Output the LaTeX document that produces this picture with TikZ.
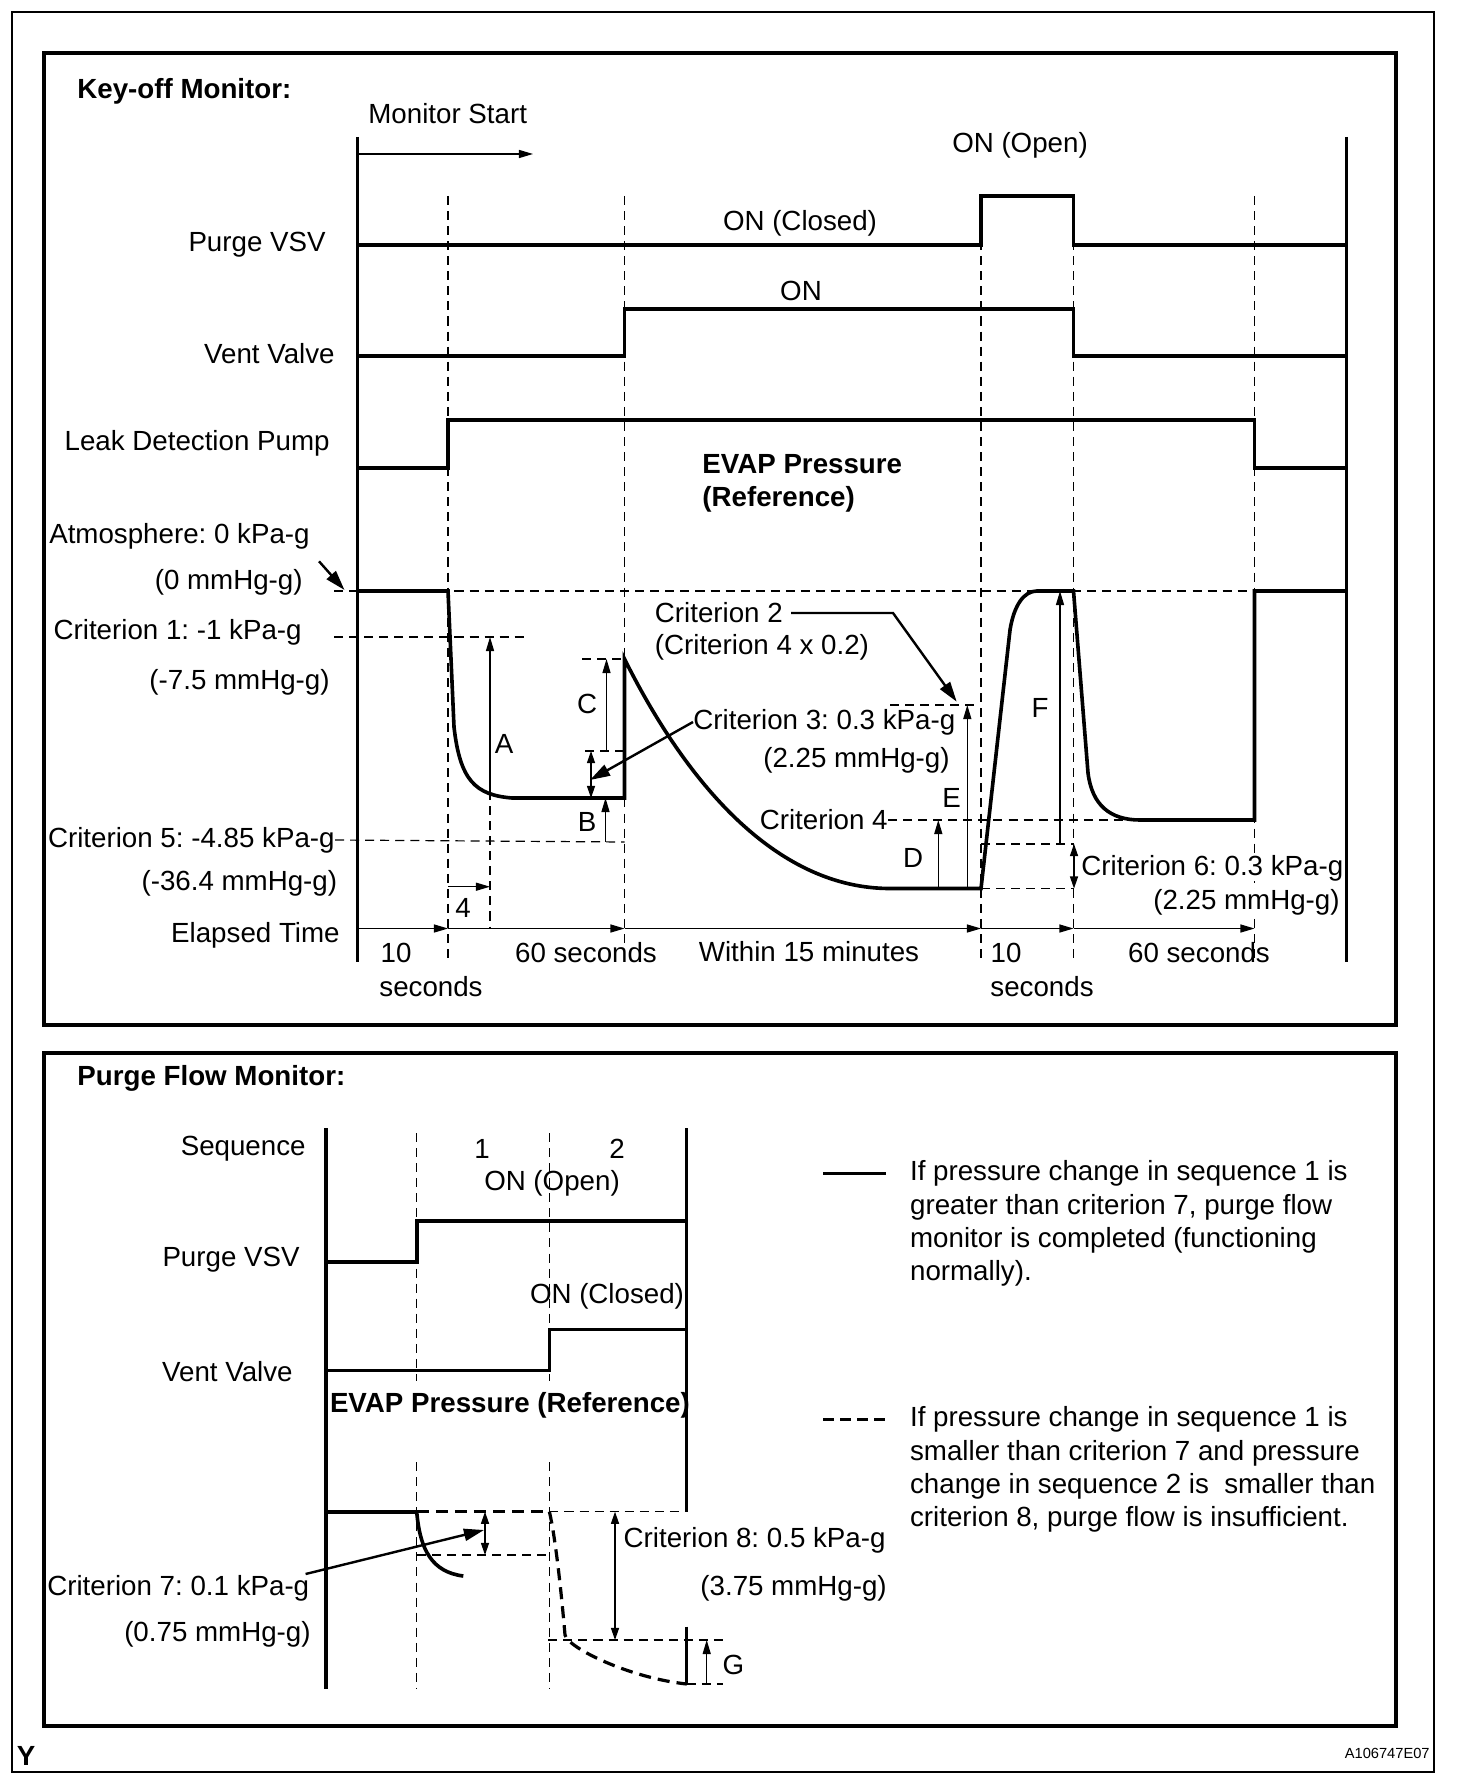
\documentclass[tikz,border=0pt]{standalone}
\usepackage{fontspec}
\setmainfont{Liberation Sans}
\usetikzlibrary{arrows.meta,positioning}
\frenchspacing

\begin{document}
\begin{tikzpicture}[
    x=0.0175cm, y=-0.0175cm,
    font=\fontsize{13.8}{16.5}\selectfont,
    lbl/.style={inner sep=0pt},
    mask/.style={inner sep=0pt, fill=white},
    title/.style={inner sep=0pt, font=\fontsize{13.8}{16.5}\selectfont\bfseries},
    sig/.style={line width=1.8pt},
    axis/.style={line width=1.5pt},
    guide/.style={line width=0.6pt, dash pattern=on 4.5pt off 3pt},
    tick/.style={line width=0.6pt, -{Triangle[length=7pt,width=4pt]}},
    span/.style={line width=0.6pt, {Triangle[length=6pt,width=4pt]}-{Triangle[length=6pt,width=4pt]}},
    pointer/.style={line width=1.2pt, -{Triangle[length=10pt,width=6pt]}},
    failcurve/.style={line width=1.6pt, dash pattern=on 6pt off 3.5pt}
]
\useasboundingbox (0,0) rectangle (1456,1788);
\draw[line width=1.2pt] (12,12) rectangle (1434,1772);
\draw[line width=2pt] (44,53) rectangle (1396,1025);
\draw[line width=2pt] (44,1053) rectangle (1396,1726);
\node[title, anchor=center] (yy) at (26,1756) {Y};
\node[lbl, anchor=east, font=\fontsize{7.3}{9}\selectfont] (code) at (1430,1753) {A106747E07};

% key-off monitor
\node[title, anchor=west] (keyoff) at (77,91) {Key-off Monitor:};
\node[lbl, anchor=west] (mstart) at (368,114) {Monitor Start};
\draw[axis] (357.5,137) -- (357.5,962);
\draw[axis] (1346.5,137) -- (1346.5,962);
\draw[tick] (357.5,154) -- (533,154);
\foreach \t in {448,624.5,981,1073.5,1254.5}
    \draw[guide] (\t,196) -- (\t,962);
\foreach \a/\b in {357.5/448,448/624.5,624.5/981,981/1073.5,1073.5/1254.5}
    \draw[tick] (\a,928.5) -- (\b,928.5);

\node[lbl, anchor=east] (vsvK) at (326,245) {Purge VSV};
\node[lbl, anchor=east] (ventK) at (335,354) {Vent Valve};
\node[lbl, anchor=east] (pump) at (330,443) {Leak Detection Pump};
\node[lbl] (open) at (1020,145) {ON (Open)};
\node[lbl] (closed) at (800,223) {ON (Closed)};
\node[lbl] (on) at (801,291) {ON};
\draw[sig] (357.5,245) -- (981,245) -- (981,196) -- (1073.5,196) -- (1073.5,245) -- (1346.5,245);
\draw[sig] (357.5,356) -- (624.5,356) -- (624.5,309) -- (1073.5,309) -- (1073.5,356) -- (1346.5,356);
\draw[sig] (357.5,468) -- (448,468) -- (448,420) -- (1254.5,420) -- (1254.5,468) -- (1346.5,468);

\node[title, anchor=west] (evapK) at (702,464) {EVAP Pressure};
\node[title, anchor=west] (refK) at (702,499) {(Reference)};
\node[lbl, anchor=east] (atm) at (310,536) {Atmosphere: 0 kPa-g};
\node[lbl, anchor=east] (atmmm) at (303,582) {(0 mmHg-g)};
\node[lbl, anchor=east] (crit1) at (302,632) {Criterion 1: -1 kPa-g};
\node[lbl, anchor=east] (crit1mm) at (330,682) {(-7.5 mmHg-g)};
\node[lbl, anchor=east] (crit5) at (335,840) {Criterion 5: -4.85 kPa-g};
\node[lbl, anchor=east] (crit5mm) at (337.5,883) {(-36.4 mmHg-g)};
\node[lbl, anchor=east] (elapsed) at (340,935) {Elapsed Time};
\node[lbl, anchor=west] (crit2) at (654.5,613) {Criterion 2};
\node[lbl, anchor=west] (crit2b) at (654.5,647) {(Criterion 4 x 0.2)};
\node[lbl, anchor=west] (crit3) at (693,722) {Criterion 3: 0.3 kPa-g};
\node[lbl, anchor=east] (crit3mm) at (950,760) {(2.25 mmHg-g)};
\node[lbl, anchor=east] (crit4) at (888,820) {Criterion 4};
\node[lbl] (lA) at (504,744) {A};
\node[lbl] (lB) at (587,822) {B};
\node[lbl] (lC) at (587,704) {C};
\node[lbl] (lD) at (913,858) {D};
\node[lbl] (lE) at (951.5,798) {E};
\node[lbl] (lF) at (1040,708) {F};
\node[lbl] (four) at (463,908) {4};
\node[lbl] (ten1) at (396,953) {10};
\node[lbl] (sec1) at (431,987) {seconds};
\node[lbl] (sixty1) at (586,953) {60 seconds};
\node[lbl] (within) at (809,952) {Within 15 minutes};
\node[lbl] (ten2) at (1006,953) {10};
\node[lbl] (sec2) at (1042,987) {seconds};
\node[lbl] (sixty2) at (1199,953) {60 seconds};

\draw[guide] (334,591) -- (1254.5,591);
\draw[guide] (334,637) -- (526,637);
\draw[guide] (crit5.east) -- (624.5,842);
\draw[guide] (582,659) -- (624.5,659);
\draw[guide] (585,751) -- (624.5,751);
\draw[guide] (890,705) -- (980,705);
\draw[guide] (crit4.east) -- (1140,820);
\draw[guide] (981,844) -- (1073.5,844);
\draw[guide] (981,888.5) -- (1073.5,888.5);
\draw[guide] (490,791) -- (490,928.5);

\node[mask, anchor=west] (crit6) at (1081,868) {Criterion 6: 0.3 kPa-g};
\node[mask, anchor=east] (crit6mm) at (1340,902) {(2.25 mmHg-g)};

\draw[sig] (357.5,591) -- (448,591) -- (454,727) .. controls (460,780) and (475,795) .. (512,798)
    -- (624.5,798) -- (624.5,659) .. controls (690,790) and (780,888.5) .. (890,888.5)
    -- (981,888.5) -- (1010,630) .. controls (1014,605) and (1024,591) .. (1037,591)
    -- (1073.5,591) -- (1088,773) .. controls (1092,805) and (1110,820) .. (1140,820)
    -- (1254.5,820) -- (1254.5,591) -- (1346.5,591);

\draw[tick] (490,791) -- (490,637);
\draw[tick] (606.5,751) -- (606.5,659);
\draw[span] (591,751) -- (591,798);
\draw[tick] (605.5,842) -- (605.5,798);
\draw[tick] (938.3,888.5) -- (938.3,820);
\draw[tick] (967.3,888.5) -- (967.3,705);
\draw[tick] (1060,844) -- (1060,591);
\draw[span] (1074,844) -- (1074,888.5);
\draw[tick] (448,886.7) -- (490,886.7);

\draw[pointer] ([shift={(9,12)}]atm.south east) -- (344.5,590);
\draw[pointer] ([xshift=4pt]crit2.east) -- (893,613) -- (956.7,701.7);
\draw[pointer] (crit3.west) -- (590,780);

% purge flow monitor
\node[title, anchor=west] (purgeflow) at (77,1078) {Purge Flow Monitor:};
\draw[axis] (326,1128) -- (326,1689);
\draw[axis] (686.7,1128) -- (686.7,1511.7);
\draw[axis] (686.7,1626.7) -- (686.7,1685);
\foreach \t in {416.7,549.4} {
    \draw[guide] (\t,1133) -- (\t,1381);
    \draw[guide] (\t,1462) -- (\t,1689);
}
\node[lbl, anchor=east] (seq) at (306,1149) {Sequence};
\node[lbl] (seq1) at (482,1149) {1};
\node[lbl] (seq2) at (617,1149) {2};
\node[lbl] (openP) at (552,1183) {ON (Open)};
\node[lbl] (closedP) at (607,1296) {ON (Closed)};
\node[lbl, anchor=east] (vsvP) at (300,1260) {Purge VSV};
\node[lbl, anchor=east] (ventP) at (293,1371.6) {Vent Valve};
\draw[sig] (326,1262) -- (416.7,1262) -- (416.7,1221) -- (686.7,1221);
\draw[sig] (326,1370.6) -- (549.4,1370.6) -- (549.4,1329.6) -- (686.7,1329.6);
\node[title, anchor=west] (evapP) at (329.6,1405) {EVAP Pressure (Reference)};

\draw[sig] (326,1511.7) -- (416.7,1511.7);
\draw[failcurve] (416.7,1511.7) -- (549.4,1511.7);
\draw[guide] (549.4,1511.7) -- (686.7,1511.7);
\draw[sig] (416.7,1511.7) .. controls (420,1550) and (432,1572) .. (463.3,1576);
\draw[failcurve] (549.4,1511.7) .. controls (556,1540) and (562,1600) .. (565,1635)
    .. controls (568,1648) and (630,1678) .. (686.7,1684);
\draw[guide] (416.7,1555) -- (546.7,1555);
\draw[guide] (548.3,1640) -- (723.3,1640);
\draw[guide] (686.7,1684) -- (723.3,1684);
\draw[span] (485,1511.7) -- (485,1555);
\draw[span] (615,1511.7) -- (615,1640);
\draw[tick] (706.7,1684) -- (706.7,1640);

\node[lbl, anchor=east] (crit7) at (309.6,1588) {Criterion 7: 0.1 kPa-g};
\node[lbl, anchor=east] (crit7mm) at (311,1634) {(0.75 mmHg-g)};
\node[lbl, anchor=west] (crit8) at (623.3,1540) {Criterion 8: 0.5 kPa-g};
\node[lbl, anchor=west] (crit8mm) at (700,1588) {(3.75 mmHg-g)};
\node[lbl] (lG) at (733.3,1665) {G};
\draw[pointer] ([shift={(-4,-14)}]crit7.east) -- (484,1530);

\coordinate (okA) at (823,1173.6);
\coordinate (failA) at (823,1419.3);
\draw[sig] (okA) -- ++(62.6,0);
\draw[line width=1.2pt, dash pattern=on 5.5pt off 3pt] (failA) -- ++(62.6,0);
\node[lbl, anchor=west, align=left] (okText) at (909.7,1223.5)
    {If pressure change in sequence 1 is\\greater than criterion 7, purge flow\\monitor is completed (functioning\\normally).};
\node[lbl, anchor=west, align=left] (failText) at (909.7,1469.4)
    {If pressure change in sequence 1 is\\smaller than criterion 7 and pressure\\change in sequence 2 is\ \ smaller than\\criterion 8, purge flow is insufficient.};
\end{tikzpicture}
\end{document}
